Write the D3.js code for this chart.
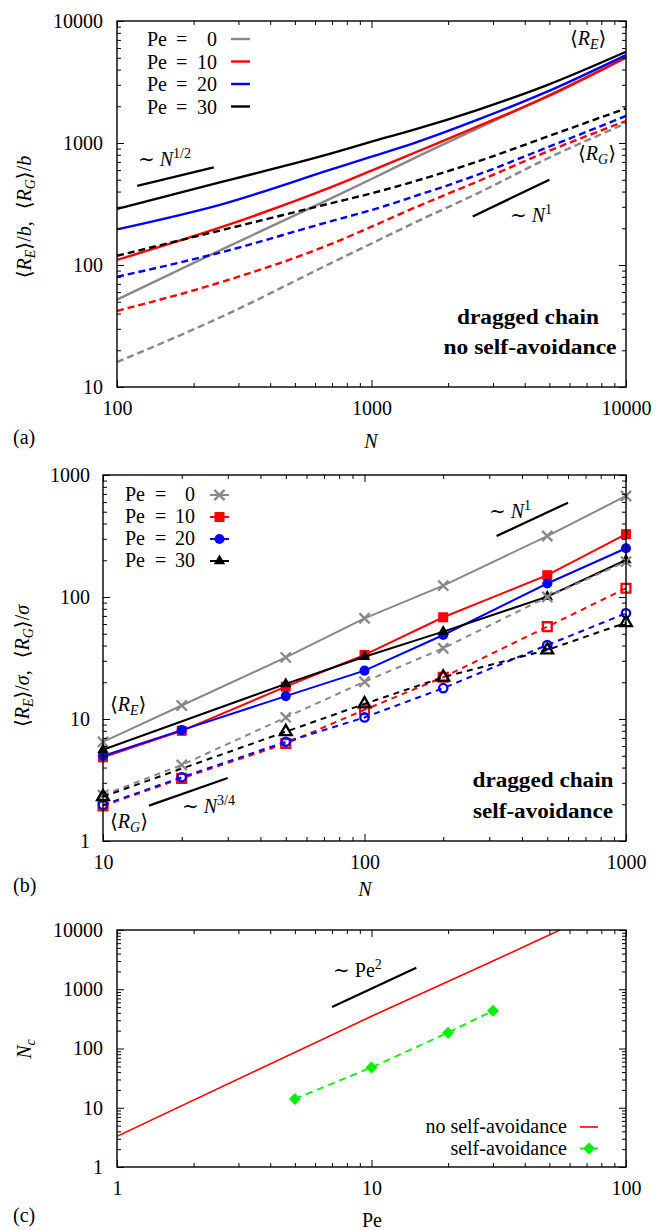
<!DOCTYPE html>
<html><head><meta charset="utf-8">
<script src="https://cdn.jsdelivr.net/npm/d3@7/dist/d3.min.js"></script>
<style>html,body{margin:0;padding:0;background:#fff;}svg{display:block}</style>
</head><body>
<svg id="chart" width="657" height="1230"></svg>
<script>
// ---------------- data ----------------
const peLabels = ["0", "10", "20", "30"];
const seriesColors = ["#888888", "#ff0000", "#0000ff", "#000000"];

// panel (a): dragged chain, no self-avoidance (smooth curves)
const nA = [100, 260, 690, 1000, 1460, 2600, 4900, 10000];
const reA0  = [52, 135, 350, 507, 745, 1310, 2420, 4980];
const reA10 = [110, 206, 432, 593, 824, 1361, 2399, 5040];
const reA20 = [196, 316, 604, 773, 993, 1545, 2636, 5260];
const reA30 = [288, 482, 818, 1026, 1279, 1862, 2985, 5600];
const rgA0  = [16, 38, 103, 150, 220, 385, 745, 1449];
const rgA10 = [42, 73, 148, 206, 292, 482, 849, 1514];
const rgA20 = [80, 128, 228, 282, 363, 547, 920, 1665];
const rgA30 = [119, 194, 320, 387, 482, 703, 1127, 1923];
const guideAHalfN = [120, 240], guideAHalfV = [445, 630];
const guideAOneN = [2500, 5000], guideAOneV = [250, 500];
const xTicksA = [100, 1000, 10000], yTicksA = [10, 100, 1000, 10000];

// panel (b): dragged chain, self-avoidance (simulation points)
const nB = [10, 20, 50, 100, 200, 500, 1000];
const nB30 = [10, 50, 100, 200, 500, 1000];
const reB0  = [6.5, 12.9, 32.0, 66.9, 124, 316, 673];
const reB10 = [4.85, 8.0, 18.4, 33.5, 68.2, 151, 327];
const reB20 = [4.97, 8.1, 15.4, 24.9, 48.8, 129, 251];
const reB30 = [5.6, 19.4, 32.4, 52, 100.7, 201];
const rgB0  = [2.38, 4.2, 10.3, 20.2, 38.0, 100, 195];
const rgB10 = [1.94, 3.26, 6.3, 11.9, 22.0, 57.1, 118];
const rgB20 = [1.97, 3.33, 6.5, 10.3, 17.9, 40.4, 73.5];
const rgB30 = [2.31, 7.87, 13.3, 22.0, 36.8, 61.5];
const guideB34N = [15, 30], guideB34V = [1.95, 3.28];
const guideB1N = [320, 600], guideB1V = [316, 593];
const xTicksB = [10, 100, 1000], yTicksB = [1, 10, 100, 1000];

// panel (c): critical N_c vs Pe
const peNoSA = [1, 10, 29, 55];
const ncNoSA = [3.3, 350, 2800, 10000];
const peSA = [5, 10, 20, 30];
const ncSA = [14.1, 48, 185, 435];
const guideCN = [7, 15], guideCV = [500, 2296];
const xTicksC = [1, 10, 100], yTicksC = [1, 10, 100, 1000, 10000];
const legendC = ["no self-avoidance", "self-avoidance"];

// ---------------- helpers ----------------
const svg = d3.select("#chart");
const FONT = "'Liberation Serif','DejaVu Serif','Times New Roman',serif";
const GREEN = "#00f000";
const zip = (a, b) => a.map((v, i) => [v, b[i]]);
const isMajor = d => { const l = Math.log10(d); return Math.abs(l - Math.round(l)) < 1e-9; };

function rich(parent, x, y, segs, opts = {}) {
  const size = opts.size || 20;
  const t = parent.append("text").attr("font-family", FONT).attr("font-size", size)
    .attr("text-anchor", opts.anchor || "start").attr("fill", "#000");
  if (opts.bold) t.attr("font-weight", "bold");
  if (opts.rot) t.attr("transform", `translate(${x},${y}) rotate(-90)`);
  else t.attr("x", x).attr("y", y);
  let cur = 0;
  segs.forEach(([s, st = "", dx = 0]) => {
    const sub = st.includes("sub"), sup = st.includes("sup");
    const off = sub ? size * 0.22 : sup ? -size * 0.42 : 0;
    const sp = t.append("tspan").attr("dy", off - cur).text(s);
    if (dx) sp.attr("dx", dx);
    cur = off;
    if (st.startsWith("i")) sp.attr("font-style", "italic");
    if (sub || sup) sp.attr("font-size", size * 0.7);
  });
  return t;
}

function axes(x, y, box, xMaj, yMaj) {
  const g = svg.append("g");
  const xMin = x.ticks().filter(d => !isMajor(d));
  const yMin = y.ticks().filter(d => !isMajor(d));
  const fmt = d3.format("d");
  const add = (axis, tr) => g.append("g").attr("transform", tr).call(axis)
    .call(s => s.select(".domain").remove())
    .attr("font-family", FONT).attr("font-size", 20)
    .call(s => s.selectAll("line").attr("stroke-width", 1));
  add(d3.axisBottom(x).tickValues(xMaj).tickSize(-7).tickPadding(14).tickFormat(fmt), `translate(0,${box.bottom})`);
  add(d3.axisBottom(x).tickValues(xMin).tickSize(-4).tickFormat(""), `translate(0,${box.bottom})`);
  add(d3.axisTop(x).tickValues(xMaj).tickSize(-7).tickFormat(""), `translate(0,${box.top})`);
  add(d3.axisTop(x).tickValues(xMin).tickSize(-4).tickFormat(""), `translate(0,${box.top})`);
  add(d3.axisLeft(y).tickValues(yMaj).tickSize(-7).tickPadding(box.ypad).tickFormat(fmt), `translate(${box.left},0)`);
  add(d3.axisLeft(y).tickValues(yMin).tickSize(-4).tickFormat(""), `translate(${box.left},0)`);
  add(d3.axisRight(y).tickValues(yMaj).tickSize(-7).tickFormat(""), `translate(${box.right},0)`);
  add(d3.axisRight(y).tickValues(yMin).tickSize(-4).tickFormat(""), `translate(${box.right},0)`);
  g.append("rect").attr("x", box.left).attr("y", box.top)
    .attr("width", box.right - box.left).attr("height", box.bottom - box.top)
    .attr("fill", "none").attr("stroke", "#000").attr("stroke-width", 1.4);
  return g;
}

// ================= panel (a) =================
const boxA = {left: 117, right: 626, top: 21, bottom: 387, ypad: 14};
const xA = d3.scaleLog().domain([100, 10000]).range([boxA.left, boxA.right]);
const yA = d3.scaleLog().domain([10, 10000]).range([boxA.bottom, boxA.top]);
const lineA = d3.line().x(d => xA(d[0])).y(d => yA(d[1])).curve(d3.curveMonotoneX);
const gA = svg.append("g");
[reA0, reA10, reA20, reA30].forEach((s, i) => gA.append("path").datum(zip(nA, s)).attr("d", lineA)
  .attr("fill", "none").attr("stroke", seriesColors[i]).attr("stroke-width", 2.4));
[rgA0, rgA10, rgA20, rgA30].forEach((s, i) => gA.append("path").datum(zip(nA, s)).attr("d", lineA)
  .attr("fill", "none").attr("stroke", seriesColors[i]).attr("stroke-width", 2.4).attr("stroke-dasharray", "7,4"));
const straightA = d3.line().x(d => xA(d[0])).y(d => yA(d[1]));
gA.append("path").datum(zip(guideAHalfN, guideAHalfV)).attr("d", straightA).attr("stroke", "#000").attr("stroke-width", 2.3);
gA.append("path").datum(zip(guideAOneN, guideAOneV)).attr("d", straightA).attr("stroke", "#000").attr("stroke-width", 2.3);
axes(xA, yA, boxA, xTicksA, yTicksA);
// legend (a)
peLabels.forEach((p, i) => {
  const yy = 46 + i * 22.5;
  svg.append("text").attr("x", 147).attr("y", yy).attr("font-family", FONT).attr("font-size", 20).text("Pe");
  svg.append("text").attr("x", 176).attr("y", yy).attr("font-family", FONT).attr("font-size", 20).text("=");
  svg.append("text").attr("x", 217).attr("y", yy).attr("text-anchor", "end").attr("font-family", FONT).attr("font-size", 20).text(p);
  svg.append("line").attr("x1", 231).attr("x2", 250).attr("y1", yy - 7).attr("y2", yy - 7)
    .attr("stroke", seriesColors[i]).attr("stroke-width", 2.4);
});
rich(svg, 138, 166, [["∼ "], ["N", "i"], ["1/2", "sup"]]);
rich(svg, 510, 222, [["∼ "], ["N", "i"], ["1", "sup"]]);
rich(svg, 570, 45, [["⟨"], ["R", "i"], ["E", "isub"], ["⟩"]]);
rich(svg, 578, 160, [["⟨"], ["R", "i"], ["G", "isub"], ["⟩"]]);
rich(svg, 528, 324, [["dragged chain"]], {anchor: "middle", bold: true}).attr("textLength", 142).attr("lengthAdjust", "spacingAndGlyphs");
rich(svg, 530, 354, [["no self-avoidance"]], {anchor: "middle", bold: true}).attr("textLength", 173).attr("lengthAdjust", "spacingAndGlyphs");
rich(svg, 31, 217, [["⟨"], ["R", "i"], ["E", "isub"], ["⟩/"], ["b", "i"], [","], ["⟨", "", 12], ["R", "i"], ["G", "isub"], ["⟩/"], ["b", "i"]], {anchor: "middle", rot: true});
rich(svg, 371, 448, [["N", "i"]], {anchor: "middle"});
rich(svg, 13, 444, [["(a)"]]);

// ================= panel (b) =================
const boxB = {left: 103, right: 626, top: 475, bottom: 841, ypad: 13};
const xB = d3.scaleLog().domain([10, 1000]).range([boxB.left, boxB.right]);
const yB = d3.scaleLog().domain([1, 1000]).range([boxB.bottom, boxB.top]);
const lineB = d3.line().x(d => xB(d[0])).y(d => yB(d[1]));
const gB = svg.append("g");
const symFilled = [
  d3.symbol(d3.symbolTimes, 70), d3.symbol(d3.symbolSquare, 100),
  d3.symbol(d3.symbolCircle, 80), d3.symbol(d3.symbolTriangle, 56)];
const symHollow = [
  d3.symbol(d3.symbolTimes, 70), d3.symbol(d3.symbolSquare2, 100),
  d3.symbol(d3.symbolCircle, 55), d3.symbol(d3.symbolTriangle2, 100)];
function drawMarkers(g, pts, i, hollow) {
  const sym = hollow ? symHollow[i] : symFilled[i];
  const strokeOnly = hollow || i === 0;
  g.selectAll(null).data(pts).join("path").attr("d", sym)
    .attr("transform", d => `translate(${xB(d[0])},${yB(d[1])})`)
    .attr("fill", strokeOnly ? "none" : seriesColors[i])
    .attr("stroke", strokeOnly ? seriesColors[i] : "none")
    .attr("stroke-width", 2.3);
}
const reB = [zip(nB, reB0), zip(nB, reB10), zip(nB, reB20), zip(nB30, reB30)];
const rgB = [zip(nB, rgB0), zip(nB, rgB10), zip(nB, rgB20), zip(nB30, rgB30)];
reB.forEach((pts, i) => {
  gB.append("path").datum(pts).attr("d", lineB).attr("fill", "none").attr("stroke", seriesColors[i]).attr("stroke-width", 2);
  drawMarkers(gB, pts, i, false);
});
rgB.forEach((pts, i) => {
  gB.append("path").datum(pts).attr("d", lineB).attr("fill", "none").attr("stroke", seriesColors[i])
    .attr("stroke-width", 2).attr("stroke-dasharray", "6,5");
  drawMarkers(gB, pts, i, true);
});
gB.append("path").datum(zip(guideB34N, guideB34V)).attr("d", lineB).attr("stroke", "#000").attr("stroke-width", 2.2);
gB.append("path").datum(zip(guideB1N, guideB1V)).attr("d", lineB).attr("stroke", "#000").attr("stroke-width", 2.2);
axes(xB, yB, boxB, xTicksB, yTicksB);
// legend (b)
peLabels.forEach((p, i) => {
  const yy = 501 + i * 22;
  svg.append("text").attr("x", 125).attr("y", yy).attr("font-family", FONT).attr("font-size", 20).text("Pe");
  svg.append("text").attr("x", 155).attr("y", yy).attr("font-family", FONT).attr("font-size", 20).text("=");
  svg.append("text").attr("x", 195).attr("y", yy).attr("text-anchor", "end").attr("font-family", FONT).attr("font-size", 20).text(p);
  svg.append("line").attr("x1", 210).attr("x2", 229).attr("y1", yy - 6).attr("y2", yy - 6)
    .attr("stroke", seriesColors[i]).attr("stroke-width", 2);
  const strokeOnly = i === 0;
  svg.append("path").attr("d", symFilled[i]).attr("transform", `translate(219.5,${yy - 6})`)
    .attr("fill", strokeOnly ? "none" : seriesColors[i]).attr("stroke", strokeOnly ? seriesColors[i] : "none").attr("stroke-width", 2.3);
});
rich(svg, 489, 518, [["∼ "], ["N", "i"], ["1", "sup"]]);
rich(svg, 182, 813, [["∼ "], ["N", "i"], ["3/4", "sup"]]);
rich(svg, 110, 711, [["⟨"], ["R", "i"], ["E", "isub"], ["⟩"]]);
rich(svg, 110, 828, [["⟨"], ["R", "i"], ["G", "isub"], ["⟩"]]);
rich(svg, 543, 787, [["dragged chain"]], {anchor: "middle", bold: true}).attr("textLength", 141).attr("lengthAdjust", "spacingAndGlyphs");
rich(svg, 543, 818, [["self-avoidance"]], {anchor: "middle", bold: true}).attr("textLength", 140).attr("lengthAdjust", "spacingAndGlyphs");
rich(svg, 29, 666, [["⟨"], ["R", "i"], ["E", "isub"], ["⟩/"], ["σ", "i"], [","], ["⟨", "", 12], ["R", "i"], ["G", "isub"], ["⟩/"], ["σ", "i"]], {anchor: "middle", rot: true});
rich(svg, 365, 896, [["N", "i"]], {anchor: "middle"});
rich(svg, 13, 892, [["(b)"]]);

// ================= panel (c) =================
const boxC = {left: 117, right: 626, top: 930, bottom: 1167, ypad: 14};
const xC = d3.scaleLog().domain([1, 100]).range([boxC.left, boxC.right]);
const yC = d3.scaleLog().domain([1, 10000]).range([boxC.bottom, boxC.top]);
const lineC = d3.line().x(d => xC(d[0])).y(d => yC(d[1]));
svg.append("clipPath").attr("id", "clipC").append("rect")
  .attr("x", boxC.left).attr("y", boxC.top).attr("width", boxC.right - boxC.left).attr("height", boxC.bottom - boxC.top);
const gC = svg.append("g").attr("clip-path", "url(#clipC)");
gC.append("path").datum(zip(peNoSA, ncNoSA)).attr("d", lineC).attr("fill", "none").attr("stroke", "#ff0000").attr("stroke-width", 1.6);
gC.append("path").datum(zip(peSA, ncSA)).attr("d", lineC).attr("fill", "none").attr("stroke", GREEN)
  .attr("stroke-width", 1.8).attr("stroke-dasharray", "7,5");
const diamond = d3.symbol(d3.symbolSquare, 72);
gC.selectAll(null).data(zip(peSA, ncSA)).join("path").attr("d", diamond)
  .attr("transform", d => `translate(${xC(d[0])},${yC(d[1])}) rotate(45)`).attr("fill", GREEN);
gC.append("path").datum(zip(guideCN, guideCV)).attr("d", lineC).attr("stroke", "#000").attr("stroke-width", 2.2);
axes(xC, yC, boxC, xTicksC, yTicksC);
rich(svg, 333, 977, [["∼ Pe"], ["2", "sup"]]);
svg.append("text").attr("x", 567).attr("y", 1133).attr("text-anchor", "end").attr("font-family", FONT).attr("font-size", 20).text(legendC[0]);
svg.append("text").attr("x", 567).attr("y", 1155).attr("text-anchor", "end").attr("font-family", FONT).attr("font-size", 20).text(legendC[1]);
svg.append("line").attr("x1", 580).attr("x2", 598).attr("y1", 1127).attr("y2", 1127).attr("stroke", "#ff0000").attr("stroke-width", 1.6);
svg.append("line").attr("x1", 580).attr("x2", 598).attr("y1", 1148.5).attr("y2", 1148.5).attr("stroke", GREEN).attr("stroke-width", 1.8);
svg.append("path").attr("d", diamond).attr("transform", "translate(589,1148.5) rotate(45)").attr("fill", GREEN);
rich(svg, 31, 1049, [["N", "i"], ["c", "isub"]], {anchor: "middle", rot: true});
rich(svg, 372, 1227, [["Pe"]], {anchor: "middle"});
rich(svg, 13, 1222, [["(c)"]]);
</script>
</body></html>
